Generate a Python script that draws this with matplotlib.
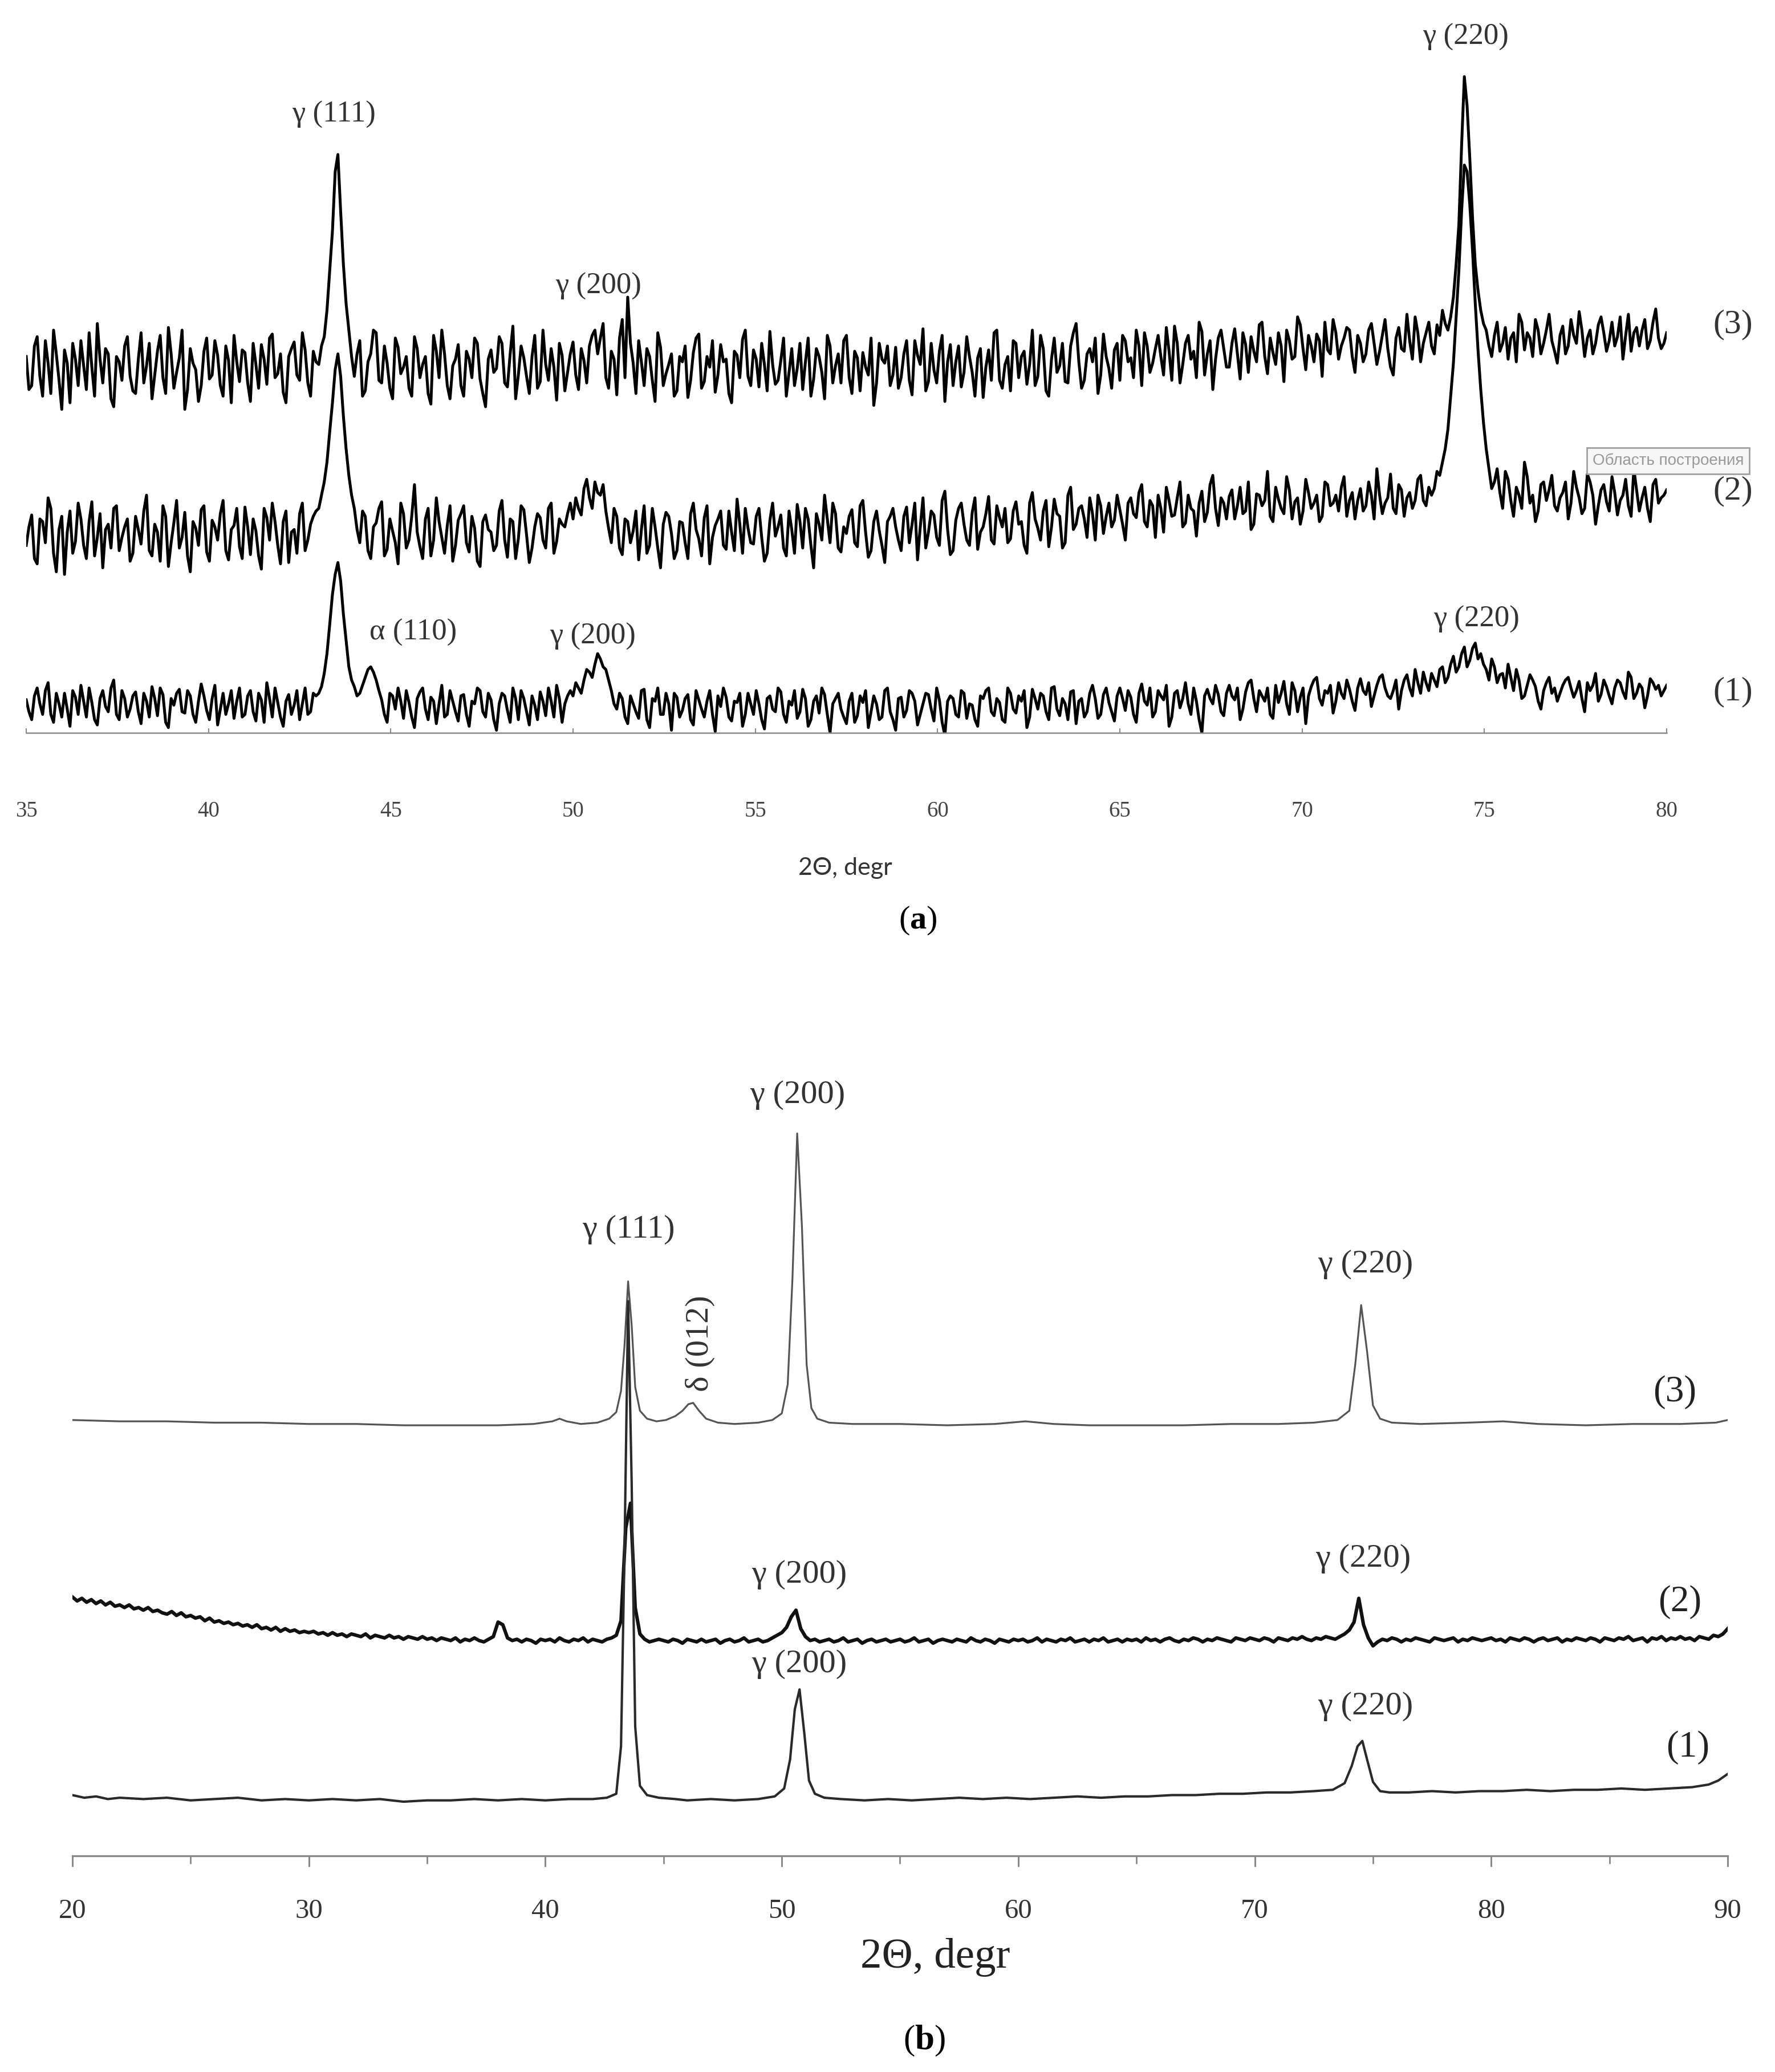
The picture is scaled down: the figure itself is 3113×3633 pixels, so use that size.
import numpy as np
import matplotlib
matplotlib.use("Agg")
import matplotlib.pyplot as plt
from matplotlib.ticker import MultipleLocator

plt.rcParams['font.family'] = ['Liberation Serif', 'DejaVu Serif']
plt.rcParams['mathtext.fontset'] = 'custom'
plt.rcParams['mathtext.rm'] = 'Liberation Serif'
plt.rcParams['mathtext.bf'] = 'Liberation Serif:bold'

# ---------------- panel (a): 2θ from 35 to 80 deg ----------------
# samples at 35.00, 35.15, ... (a1/a2/a3) and the in-between samples at 35.075, 35.225, ... (a1m/a2m/a3m)
a_start, a_step = 35.0, 0.075
a_ticks = [35, 40, 45, 50, 55, 60, 65, 70, 75, 80]
a_offsets = [20, 150, 275]          # stacking offsets of curves (1), (2), (3)

a1 = [5, -10, 14, -6, 18, -12, 2, 10, -15, 7, 16, -8, 3, -14, 12, -4, 20, -10, 6, -2,
      11, -13, 4, 15, -7, 9, -16, 1, 13, -5, 8, -12, 17, -3, 6, -14, 10, 2, -9, 14,
      -6, 12, -11, 5, 18, -8, 3, -15, 9, 1, -10, 14, -4, 8, 15, 40, 85, 109, 70, 30,
      15, 10, 22, 30, 20, 5, -12, 8, 14, -9, 3, -16, 11, -2, 7, -13, 16, -6, 4, -11,
      9, -15, 2, 12, -8, 5, -18, 10, -3, 14, -10, 6, -14, 1, 11, -7, 4, 16, -12, 8,
      8, 14, 20, 26, 32, 36, 28, 12, -2, 6, -13, 2, -9, 13, -16, 4, -6, 10, -18, 7,
      -3, 9, -14, 5, -8, 12, -19, 0, 7, -11, 3, -15, 10, -6, 2, -17, 8, -4, 11, -12,
      1, -9, 13, -15, 4, -5, 9, -20, 6, -2, -13, 10, -7, 3, -16, 8, -10, 12, -4, -18,
      7, -3, 10, -14, 2, 9, -11, 5, -22, 8, -6, 12, -9, 1, -15, 6, 14, -7, 3, -12,
      10, -5, 4, -16, 13, -2, 8, -10, 15, -7, 2, 11, -13, 6, -4, 16, -9, 9, 3, -11,
      14, -3, 7, -12, 17, 1, -8, 12, 5, -15, 10, -1, 18, -6, 4, -20, 13, 2, 9, -7,
      16, 5, -10, 11, 20, -4, 8, 14, -9, 3, 19, -6, 12, 7, -13, 15, 22, 1, 10, -5,
      18, 6, 13, -3, 21, 9, 0, 16, 24, 8, 12, -2, 20, 14, 28, 10, 18, 25, 15, 30,
      22, 38, 30, 45, 35, 48, 40, 28, 36, 18, 25, 32, 12, 20, 8, 24, 15, -2, 18, 10,
      4, 16, 22, 7, 19, -4, 12, 25, 9, 15, 2, 20, 11, 26, 6, 17, -1, 21, 13, 8, 16]
a1m = [-4, 8, 2, 12, -6, 10, -8, -2, 12, -6, 4, 14, -10, 6, 0, 14, -6, 12, -8, 8,
       -4, 10, -8, 6, 14, -12, 6, 10, -4, 12, -6, 4, 8, -10, 16, -2, -6, 12, 4, -8,
       8, -4, 10, -12, 6, 14, -8, 4, -6, 12, 2, -6, 10, 10, 25, 62, 100, 95, 50, 20,
       8, 16, 28, 26, 12, -6, 10, -2, 4, 12, -8, 6, 14, -10, 4, 2, -8, 12, -4, 8,
       -6, 4, 14, -4, 10, -10, 2, 8, -12, 6, 12, -4, 8, -10, 4, 14, -8, 6, 2, 12,
       18, 10, 28, 22, 40, 30, 20, 2, 10, -8, 8, -4, 12, -10, 6, 14, -6, 2, 10, -8,
       6, -10, 12, -2, 4, -6, 8, 14, -8, 4, 10, -6, 2, 12, -10, 6, -2, 14, -6, 4,
       12, -4, 6, -10, 8, 14, -6, 2, 10, -8, 4, -12, 8, 12, -4, 2, -8, 14, -10, 6,
       -8, 12, 4, -6, 10, -2, 14, -12, 4, 6, -8, 10, 2, -10, 8, 12, -4, 6, -10, 14,
       -2, 8, 12, -8, 6, 10, -4, 14, -2, 6, -10, 12, 4, -8, 10, 6, -6, 14, -4, 8,
       6, 12, -6, 10, 4, 14, -4, 8, 16, -8, 12, 6, 2, 14, -10, 8, 6, 16, -4, 10,
       8, 14, -2, 18, 6, 12, 4, -6, 16, 10, 2, 18, -4, 14, 8, 20, 6, 12, 16, 4,
       10, 20, 4, 14, 12, 18, 8, 22, 14, 6, 20, 12, 24, 8, 18, 26, 12, 20, 28, 18,
       32, 26, 40, 30, 44, 36, 32, 20, 30, 24, 14, 22, 28, 6, 16, 20, 4, 12, 22, 14,
       10, 20, 14, 12, 6, 18, 16, 4, 20, 8, 14, 18, 6, 22, 10, 14, 8, 18, 16, 12]

a2 = [-8, 15, -22, 10, 28, -14, 4, -30, 18, -5, 12, -18, 25, -2, -25, 8, 20, -12, 6, -20,
      14, -7, 30, -16, 2, 22, -24, 9, -10, 17, -28, 5, 19, -13, 11, -4, 26, -19, 7, -9,
      21, -15, 3, -26, 13, 24, -8, 10, -21, 4, 16, -12, 8, 18, 30, 55, 100, 137, 90, 45,
      20, -6, 14, -18, 9, 25, -11, 3, -22, 16, -4, 38, -9, 12, -16, 28, -2, 7, -20, 11,
      22, -13, 5, -24, 15, 2, -8, 26, -17, 10, -3, 19, -21, 6, 13, -10, 24, -5, 8, 16,
      12, 20, 35, 28, 40, 30, 18, -6, 14, -15, 10, 3, -19, 22, -8, 6, -25, 17, 1, -12,
      9, -18, 24, -3, 13, -22, 7, 18, -11, 2, 27, -14, 5, -7, 20, -20, 11, -1, 15, -16,
      4, 23, -10, 12, -25, 8, 30, -6, 16, -13, 1, 19, -9, 26, -17, 10, 3, -21, 14, 6,
      -12, 21, 8, -19, 28, 2, 15, -8, 33, -15, 11, 24, -4, 17, -11, 6, 29, -7, 13, 20,
      -3, 25, 10, -14, 32, 5, 18, -9, 27, 14, -6, 36, 8, 22, -2, 16, 30, 1, 24, 11,
      19, -4, 28, 13, 38, 6, 22, 30, 2, 26, 15, 40, 9, 20, -1, 33, 17, 45, 7, 24,
      29, 12, 36, 18, 4, 31, 22, 48, 10, 27, 16, 34, 25, 8, 42, 20, 30, 14, 38, 24,
      18, 44, 26, 12, 35, 22, 30, 50, 16, 28, 20, 38, 14, 32, 26, 45, 22, 30, 48, 55,
      80, 130, 200, 280, 250, 175, 110, 65, 35, 50, 20, 42, 14, 30, 55, 24, 10, 38, 26, 45,
      18, 32, 12, 48, 28, 20, 40, 8, 34, 25, 44, 15, 30, 22, 50, 18, 36, 10, 42, 28, 34]
a2m = [6, -18, 12, -6, 20, -28, 14, 2, -14, 24, -8, 10, -16, 16, 4, -10, 22, -2, 12, -14,
       4, 18, -12, 8, -20, 14, -6, 26, -2, -16, 10, -8, 22, -20, 6, 16, -12, 4, 20, -18,
       6, 12, -16, 20, -4, 10, -22, 18, 2, -14, 24, -4, 14, 20, 40, 78, 125, 120, 65, 30,
       4, 18, -12, 6, 20, -16, 12, -6, 24, -10, 14, 2, -18, 20, -4, 10, -14, 22, -8, 16,
       -6, 14, -20, 10, 4, -12, 18, -4, 12, -18, 22, 0, -10, 16, -4, 20, -14, 12, 6, 24,
       28, 15, 42, 20, 32, 38, 5, 20, -10, 12, -6, 18, 4, -14, 20, -10, 8, 14, -18, 10,
       -6, 16, 4, -16, 22, -2, 12, -8, 18, -12, 8, 20, -6, 14, -2, -14, 24, 6, -10, 18,
       -14, 10, 20, -8, 16, -4, 12, 24, -10, 6, 14, -6, 22, 2, -12, 18, -8, 10, 20, -4,
       14, -6, 24, 6, -10, 18, -2, 26, 4, -12, 20, 8, -8, 28, 2, 16, -4, 22, 6, -6,
       18, 8, -8, 24, 12, -4, 26, 6, 16, -10, 30, 4, 20, 12, 28, -4, 22, 14, 6, 30,
       8, 24, 16, 32, 10, 26, -2, 20, 36, 14, 28, 6, 30, 18, 24, 10, 38, 20, 28, 12,
       34, 22, 16, 40, 8, 30, 26, 14, 36, 20, 44, 12, 28, 18, 32, 24, 10, 40, 22, 30,
       36, 14, 32, 26, 18, 40, 12, 30, 24, 46, 16, 34, 28, 20, 42, 26, 36, 35, 45, 65,
       105, 165, 245, 275, 215, 140, 85, 50, 40, 32, 48, 26, 36, 20, 44, 30, 18, 40, 34, 22,
       28, 40, 24, 36, 16, 46, 30, 22, 38, 18, 32, 26, 42, 14, 34, 28, 20, 38, 24, 30]

a3 = [10, -12, 25, -20, 5, 30, -8, 15, -25, 8, 22, -15, 2, 35, -10, 12, -28, 6, 18, -5,
      -18, 28, 3, -22, 14, -6, 32, -14, 9, -30, 16, 0, -12, 24, -4, 11, -20, 7, 26, -9,
      13, -24, 4, 19, -11, 27, -3, -17, 10, 21, -8, 15, -20, 6, 18, 45, 105, 163, 80, 30,
      -5, 22, -16, 12, 28, -10, 5, -22, 17, 2, -14, 25, -6, 10, -26, 14, 30, -12, 3, 19,
      -20, 8, 24, -7, -28, 15, 1, 20, -13, 33, -4, 9, -18, 26, -9, 4, 16, -23, 11, -2,
      21, -15, 7, 18, 30, 24, -6, 14, -19, 38, 55, 5, 22, -12, 10, -24, 17, -3, 12, -16,
      6, -21, 13, 27, -9, 2, -17, 19, 8, -25, 11, 23, -5, 15, -13, 4, 29, -11, 7, -20,
      16, 1, -15, 24, -7, 10, -22, 18, 3, -10, 26, -18, 9, 13, -4, -27, 20, 5, -12, 17,
      -6, 22, -19, 11, 31, -9, 0, 14, -24, 19, 6, -13, 25, -2, 9, -21, 15, 28, -8, 4,
      -16, 20, 10, -11, 30, -5, 16, -20, 24, 3, -9, 18, 35, -14, 12, 6, -18, 27, 1, 15,
      -8, 22, 9, 30, -12, 18, 5, 26, -4, 14, 33, -10, 20, 8, -6, 29, 12, -15, 24, 16,
      2, 31, -7, 19, 25, 6, 36, -3, 13, 28, -9, 22, 10, 34, 0, 18, 27, -5, 15, 38,
      8, 24, 30, -2, 20, 12, 35, 4, 26, 16, -4, 32, 14, 22, 40, 6, 28, 18, 34, 45,
      30, 55, 110, 222, 160, 80, 45, 30, 10, 36, 20, 8, 28, 42, 15, 24, 38, 12, 30, 22,
      5, 33, 18, 26, 44, 10, 30, 20, 40, 14, 36, 25, 8, 42, 28, 18, 38, 22, 46, 16, 28]
a3m = [-15, 18, -5, 22, -18, 12, -30, 5, 20, -12, 3, 28, -20, 8, 16, -22, 10, -8, 25, -16,
       8, -10, 20, -4, 26, -18, 12, -2, 30, -15, 5, -24, 14, -7, 22, -12, 18, -25, 6, 15,
       -10, 20, -14, 8, 24, -6, 12, -25, 16, -4, 28, -10, 14, 4, 25, 75, 150, 120, 50, 10,
       12, -20, 6, 30, -8, 18, -14, 24, -3, 10, -20, 16, 4, -18, 26, -6, 12, -22, 8, -12,
       14, -6, 20, -18, 8, -2, 25, -10, 12, -22, 18, -5, 10, -14, 30, -8, 2, 20, -16, 12,
       -4, 16, -10, 26, 12, 35, -14, 8, 24, -6, 20, -18, 6, 16, -8, 28, -12, 4, -20, 10,
       18, -8, 24, -14, 10, 22, -4, 6, -18, 14, -6, 30, -12, 8, 20, -16, 4, -8, 24, -2,
       -12, 20, 6, -20, 16, -2, 26, -10, 12, 22, -6, 14, -16, 2, 24, -10, 8, 18, -4, -14,
       12, -8, 22, 4, -16, 20, -10, 26, 6, -12, 18, -2, 10, -20, 16, 2, -8, 30, -14, 10,
       22, -6, 14, 4, -12, 26, -16, 8, -2, 20, -10, 28, 6, -8, 16, 24, -4, 10, -14, 20,
       26, 6, -6, 18, 28, -2, 16, 10, 32, -8, 20, 4, 26, 14, 36, -4, 22, 8, 30, 2,
       20, 12, 28, -2, 14, 34, 10, 24, 4, 18, 30, 8, 40, 16, 26, 6, 22, 36, 12, 28,
       18, 32, 10, 26, 6, 30, 20, 14, 38, 2, 24, 16, 42, 8, 28, 20, 36, 12, 26, 35,
       40, 80, 170, 200, 115, 60, 35, 18, 26, 14, 32, 24, 6, 36, 28, 10, 30, 20, 42, 14,
       26, 12, 38, 20, 30, 24, 12, 34, 28, 22, 18, 40, 26, 14, 32, 30, 16, 36, 24, 20]

# ---------------- panel (b): 2θ from 20 to 90 deg ----------------
b_ticks = [20, 30, 40, 50, 60, 70, 80, 90]
b_offsets = [43, 163, 327]          # stacking offsets of curves (1), (2), (3)

b1_x = [20.0, 20.5, 21.0, 21.5, 22, 23, 24, 25, 26, 27, 28, 29, 30, 31, 32, 33, 34, 35, 36, 37,
        38, 39, 40, 41, 42, 42.6, 43.0, 43.2, 43.35, 43.5, 43.65, 43.8, 44.0, 44.3, 44.8, 45.5,
        46, 47, 48, 49, 49.7, 50.1, 50.35, 50.55, 50.75, 50.95, 51.15, 51.4, 51.8, 52.5, 53.5,
        54.5, 55.5, 56.5, 57.5, 58.5, 59.5, 60.5, 61.5, 62.5, 63.5, 64.5, 65.5, 66.5, 67.5, 68.5,
        69.5, 70.5, 71.5, 72.5, 73.3, 73.8, 74.1, 74.35, 74.55, 74.75, 75.0, 75.3, 75.7, 76.5,
        77.5, 78.5, 79.5, 80.5, 81.5, 82.5, 83.5, 84.5, 85.5, 86.5, 87.5, 88.5, 89.2, 89.6, 90.0]
b1_y = [3, 1, 2, 0, 1, 0, 1, -1, 0, 1, -1, 0, -1, 0, -1, 0, -2, -1, -1, 0,
        -1, 0, -1, 0, 0, 1, 4, 40, 190, 377, 240, 55, 10, 3, 1, 0,
        -1, 0, -1, 0, 2, 8, 30, 68, 83, 50, 14, 4, 1, 0, -1,
        0, -1, 0, 1, 0, 1, 0, 1, 2, 1, 2, 2, 3, 3, 4,
        4, 5, 5, 6, 7, 12, 25, 40, 44, 30, 13, 6, 5, 5,
        6, 5, 6, 6, 7, 6, 7, 7, 8, 7, 8, 9, 11, 14, 19]

b2_start, b2_step = 20.0, 0.2
b2 = [33, 30, 32, 29, 31, 28, 30, 27, 29, 26, 27, 25, 27, 24, 25, 23, 25, 22, 23, 21, 20, 22, 19, 21, 18,
      19, 17, 18, 15, 17, 14, 15, 13, 14, 12, 13, 11, 12, 10, 12, 9, 10, 8, 10, 7, 9, 7, 8, 6, 7,
      6, 7, 5, 6, 4, 6, 4, 5, 3, 5, 4, 3, 5, 2, 4, 3, 2, 4, 2, 3, 1, 3, 2, 1, 3,
      1, 2, 0, 2, 1, 0, 2, -1, 1, 0, 2, 0, -1, 1, 3, 14, 12, 2, 0, 1, -1, 1, 0, -2, 1,
      0, 1, -1, 2, 0, -1, 1, 0, 2, -1, 1, 0, -1, 1, 2, 4, 15, 85, 104, 25, 5, 1, -1, 0, 1,
      0, -1, 1, 0, -2, 1, 0, -1, 1, -1, 0, 1, -2, 0, 1, -1, 0, 2, -1, 0, 1, -1, 0, 2, 4,
      6, 10, 18, 23, 9, 3, 0, 1, -1, 0, 1, -1, 0, 2, -1, 0, 1, -2, 0, 1, -1, 0, 1, -1, 0,
      1, -1, 0, 2, -1, 0, 1, -2, 0, 1, 0, -1, 1, 0, -1, 2, 0, -1, 1, 0, -2, 1, 0, -1, 1,
      0, 1, -1, 0, 2, -1, 1, 0, -1, 1, 0, 2, -1, 0, 1, -1, 1, 0, 2, -1, 0, 1, -1, 1, 0,
      1, -1, 2, 0, 1, -1, 1, 2, 0, -1, 1, 0, 2, 1, -1, 1, 0, 2, 1, 0, -1, 2, 1, 0, 2,
      1, 0, 2, 1, -1, 2, 1, 0, 2, 1, 3, 1, 0, 2, 1, 3, 2, 1, 3, 5, 8, 14, 32, 12, 2,
      -4, -1, 1, 0, 2, 1, -1, 1, 0, 2, 1, 0, -1, 2, 1, 0, 1, 2, -1, 1, 0, 2, 1, 0, 1,
      2, 0, 1, -1, 2, 1, 0, 2, 1, -1, 1, 2, 0, 1, 2, -1, 1, 0, 2, 1, 0, 2, 1, -1, 2,
      1, 0, 2, 1, 3, 0, 1, 2, -1, 2, 1, 3, 0, 2, 1, 3, 1, 2, 0, 3, 2, 1, 4, 3, 5,
      9]

b3_x = [20, 22, 24, 26, 28, 30, 32, 34, 36, 38, 39.5, 40.3, 40.6, 40.9, 41.5, 42.2, 42.7, 43.0,
        43.2, 43.35, 43.5, 43.65, 43.8, 44.0, 44.3, 44.7, 45.1, 45.5, 45.8, 46.05, 46.25, 46.5,
        46.8, 47.3, 48, 49, 49.6, 50.0, 50.25, 50.45, 50.65, 50.85, 51.05, 51.25, 51.5, 52, 53,
        55, 57, 59, 60.3, 61.5, 63, 65, 67, 69, 71, 72.5, 73.5, 74.0, 74.25, 74.5, 74.75, 75.0,
        75.3, 75.8, 77, 79, 80.5, 82, 84, 86, 88, 89.5, 90]
b3_y = [3, 2, 2, 1, 1, 0, 0, -1, -1, -1, 0, 2, 4, 2, 0, 1, 4, 9,
        25, 60, 108, 75, 28, 10, 4, 2, 3, 6, 10, 15, 16, 10,
        4, 1, 0, 1, 3, 8, 30, 110, 220, 150, 45, 12, 4, 1, 0,
        0, -1, 0, 2, 0, -1, -1, -1, 0, 0, 1, 3, 10, 45, 90, 55, 14,
        4, 1, 0, 1, 2, 0, -1, 0, 0, 1, 3]


def interleave(main, mid):
    out = []
    for i in range(len(mid)):
        out.append(main[i])
        out.append(mid[i])
    out.extend(main[len(mid):])
    return np.asarray(out, dtype=float)


# ---------------- figure ----------------
W, H = 3113, 3633
fig = plt.figure(figsize=(W / 100, H / 100), dpi=100)

# ---- panel (a)
ax_a = fig.add_axes([46 / W, 1 - 1285 / H, (2923 - 46) / W, 1285 / H])
for main, mid, off in zip([a1, a2, a3], [a1m, a2m, a3m], a_offsets):
    ya = interleave(main, mid)
    xa = a_start + a_step * np.arange(len(ya))
    ax_a.plot(xa, off + ya, color='black', lw=3.6, solid_joinstyle='round')
ax_a.set_xlim(35, 80)
ax_a.set_ylim(0, 555)
for s in ['top', 'left', 'right']:
    ax_a.spines[s].set_visible(False)
ax_a.spines['bottom'].set_color('#8a8a8a')
ax_a.spines['bottom'].set_linewidth(1.8)
ax_a.set_yticks([])
ax_a.set_xticks(a_ticks)
ax_a.set_xticklabels([str(t) for t in a_ticks])
ax_a.tick_params(axis='x', direction='in', length=6, width=1.5, color='#8a8a8a',
                 pad=86, labelsize=28, labelcolor='#444444')
ax_a.patch.set_alpha(0)

lab_a = dict(ha='center', va='center', fontsize=38, color='#333333')
ax_a.text(43.44, 468, 'γ (111)', **lab_a)
ax_a.text(50.69, 338, 'γ (200)', **lab_a)
ax_a.text(74.49, 527, 'γ (220)', **lab_a)
ax_a.text(45.62, 76, 'α (110)', **lab_a)
ax_a.text(50.54, 73, 'γ (200)', **lab_a)
ax_a.text(74.78, 86, 'γ (220)', **lab_a)
cur_a = dict(ha='center', va='center', fontsize=43, color='#333333')
ax_a.text(81.81, 309, '(3)', **cur_a)
ax_a.text(81.81, 183, '(2)', **cur_a)
ax_a.text(81.81, 31, '(1)', **cur_a)
ax_a.text(80.04, 206, 'Область построения', ha='center', va='center', fontsize=20,
          color='#9a9a9a', family=['Liberation Sans', 'DejaVu Sans'],
          bbox=dict(boxstyle='square,pad=0.35', fc='#f6f6f6', ec='#a0a0a0', lw=2))

fig.text(1482 / W, 1 - 1522 / H, '2Θ, degr', ha='center', va='center', fontsize=31,
         color='#333333', family=['Lato', 'DejaVu Sans'])
fig.text(1610 / W, 1 - 1614 / H, r'($\mathbf{a}$)', ha='center', va='center', fontsize=42,
         color='black')

# ---- panel (b)
ax_b = fig.add_axes([127 / W, 1 - 3254 / H, (3030 - 127) / W, (3254 - 1853) / H])
xb2 = b2_start + b2_step * np.arange(len(b2))
ax_b.plot(np.asarray(b3_x), b_offsets[2] + np.asarray(b3_y), color='#555555', lw=2.3)
ax_b.plot(xb2, b_offsets[1] + np.asarray(b2), color='#111111', lw=4.4)
ax_b.plot(np.asarray(b1_x), b_offsets[0] + np.asarray(b1_y), color='#2a2a2a', lw=3.0)
ax_b.set_xlim(20, 90)
ax_b.set_ylim(0, 605)
for s in ['top', 'left', 'right']:
    ax_b.spines[s].set_visible(False)
ax_b.spines['bottom'].set_color('#8a8a8a')
ax_b.spines['bottom'].set_linewidth(2.4)
ax_b.set_yticks([])
ax_b.set_xticks(b_ticks)
ax_b.set_xticklabels([str(t) for t in b_ticks])
ax_b.xaxis.set_minor_locator(MultipleLocator(5))
ax_b.tick_params(axis='x', which='major', direction='out', length=14, width=2.2,
                 color='#8a8a8a', pad=40, labelsize=35, labelcolor='#333333')
ax_b.tick_params(axis='x', which='minor', direction='out', length=10, width=2.0,
                 color='#8a8a8a')
ax_b.patch.set_alpha(0)

lab_b = dict(ha='center', va='center', fontsize=42, color='#333333')
ax_b.text(43.52, 474, 'γ (111)', **lab_b)
ax_b.text(46.54, 388, 'δ (012)', rotation=90, **lab_b)
ax_b.text(50.67, 576, 'γ (200)', **lab_b)
ax_b.text(74.69, 448, 'γ (220)', **lab_b)
ax_b.text(50.73, 213, 'γ (200)', **lab_b)
ax_b.text(74.58, 225, 'γ (220)', **lab_b)
ax_b.text(50.73, 145, 'γ (200)', **lab_b)
ax_b.text(74.69, 113, 'γ (220)', **lab_b)
cur_b = dict(ha='center', va='center', fontsize=47, color='#222222')
ax_b.text(87.77, 351, '(3)', **cur_b)
ax_b.text(87.99, 192, '(2)', **cur_b)
ax_b.text(88.32, 82, '(1)', **cur_b)

fig.text(1640 / W, 1 - 3432 / H, '2Θ, degr', ha='center', va='center', fontsize=54,
         color='#222222')
fig.text(1621 / W, 1 - 3578 / H, r'($\mathbf{b}$)', ha='center', va='center', fontsize=44,
         color='black')

fig.savefig('out.png', dpi=100, facecolor='white')
